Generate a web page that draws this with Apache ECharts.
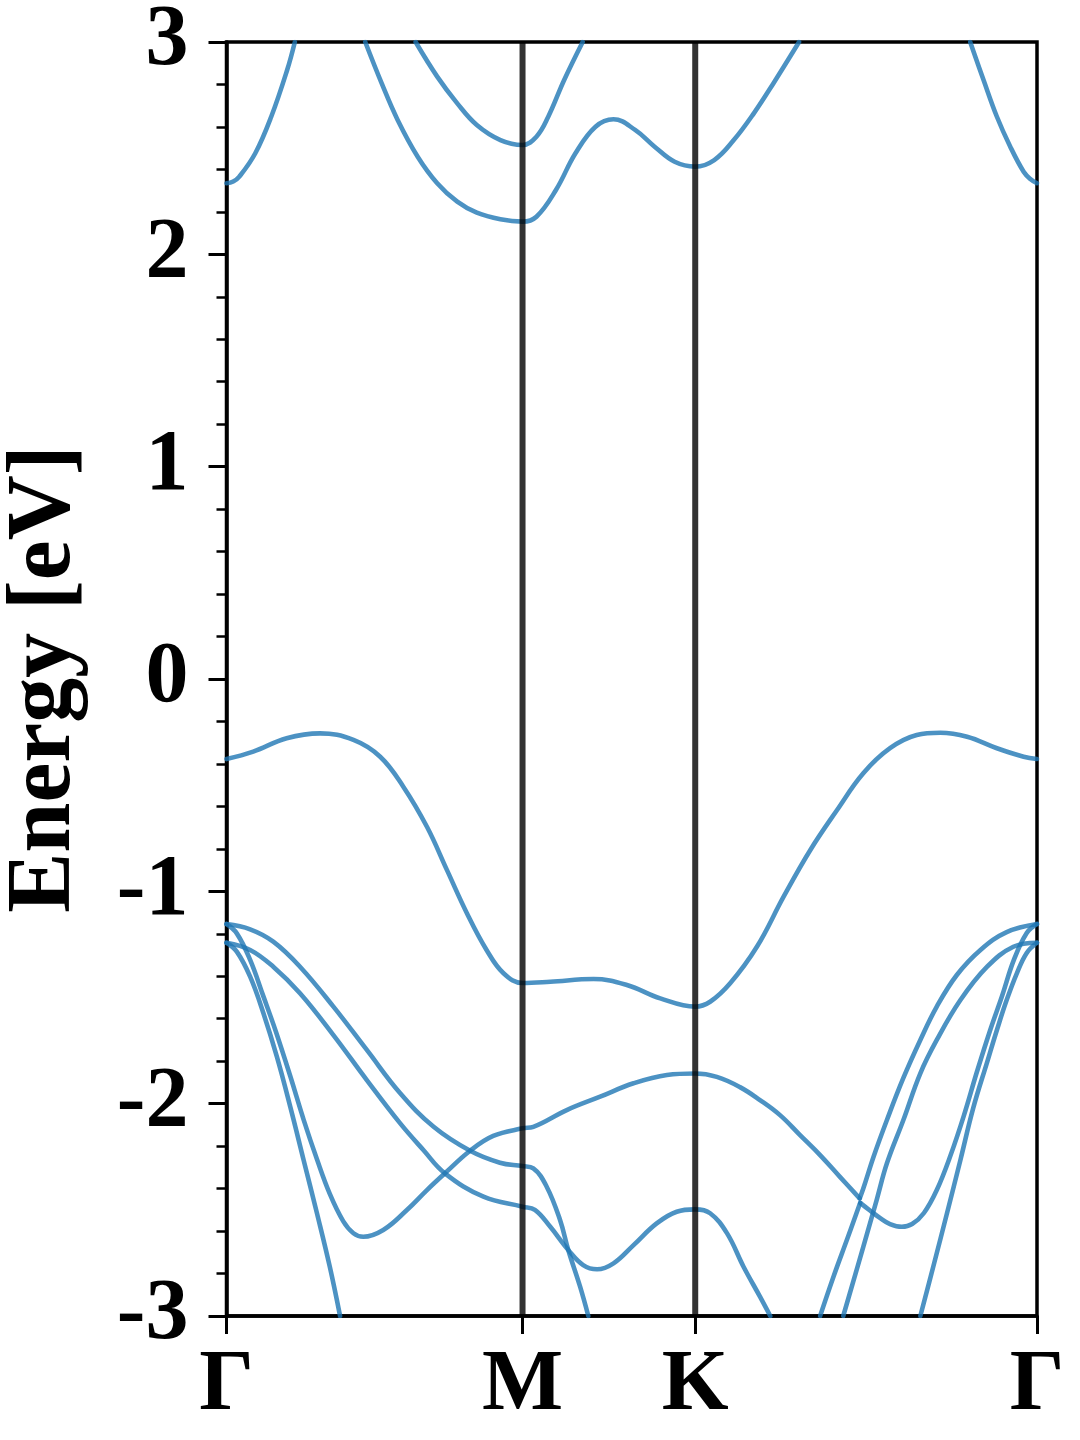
<!DOCTYPE html>
<html>
<head>
<meta charset="utf-8">
<script src="https://cdn.jsdelivr.net/npm/echarts@6/dist/echarts.min.js"></script>
<style>
html,body{margin:0;padding:0;background:#fff;}
#chart{width:1080px;height:1440px;}
</style>
</head>
<body>
<div id="chart"></div>
<script>
// High-symmetry k-points (path distance) and their labels
const kTicks = [0, 0.576, 0.912, 1.577];
const kLabels = ['Γ', 'M', 'K', 'Γ'];
// Energy axis
const eMin = -3, eMax = 3, eStep = 1;

// Bands: [k, energy (eV)]
const bandV1 = [[0,-0.377],[0.052,-0.342],[0.117,-0.279],[0.182,-0.256],[0.247,-0.287],[0.299,-0.366],[0.344,-0.507],[0.390,-0.696],[0.429,-0.900],[0.468,-1.104],[0.506,-1.276],[0.539,-1.386],[0.576,-1.432],[0.630,-1.426],[0.714,-1.413],[0.779,-1.441],[0.844,-1.504],[0.912,-1.543],[0.941,-1.520],[0.980,-1.433],[1.032,-1.261],[1.084,-1.025],[1.136,-0.805],[1.188,-0.617],[1.239,-0.444],[1.291,-0.326],[1.343,-0.264],[1.389,-0.253],[1.441,-0.272],[1.499,-0.326],[1.551,-0.366],[1.577,-0.377]];

// band through M (-2.12) and K (-1.86), split at the avoided crossing near k=1.232
const bandS1a = [[0,-1.154],[0.020,-1.198],[0.046,-1.323],[0.072,-1.496],[0.096,-1.660],[0.124,-1.870],[0.150,-2.075],[0.176,-2.262],[0.201,-2.425],[0.227,-2.553],[0.247,-2.610],[0.266,-2.627],[0.305,-2.595],[0.351,-2.501],[0.390,-2.407],[0.425,-2.328],[0.474,-2.222],[0.519,-2.152],[0.576,-2.116],[0.597,-2.109],[0.662,-2.030],[0.727,-1.967],[0.792,-1.904],[0.857,-1.865],[0.912,-1.858],[0.954,-1.874],[0.999,-1.922],[1.038,-1.983],[1.077,-2.054],[1.116,-2.148],[1.155,-2.242],[1.194,-2.346],[1.232,-2.446]];
const bandS1b = [[1.232,-2.446],[1.239,-2.400],[1.259,-2.250],[1.285,-2.077],[1.317,-1.879],[1.350,-1.700],[1.382,-1.543],[1.421,-1.394],[1.467,-1.276],[1.518,-1.192],[1.577,-1.154]];

const bandL1a = [[0,-1.154],[0.046,-1.179],[0.091,-1.237],[0.143,-1.355],[0.208,-1.543],[0.273,-1.747],[0.338,-1.951],[0.403,-2.109],[0.474,-2.222],[0.532,-2.278],[0.576,-2.294],[0.597,-2.305],[0.623,-2.391],[0.649,-2.548],[0.665,-2.689],[0.688,-2.862],[0.704,-3.0]];
const bandL1b = [[1.155,-3.0],[1.181,-2.815],[1.207,-2.642],[1.233,-2.467]];
const bandL1c = [[1.233,-2.467],[1.252,-2.503],[1.272,-2.539],[1.291,-2.567],[1.314,-2.580],[1.334,-2.567],[1.357,-2.515],[1.382,-2.407],[1.409,-2.242],[1.435,-2.054],[1.460,-1.851],[1.486,-1.653],[1.509,-1.493],[1.532,-1.323],[1.557,-1.196],[1.577,-1.154]];

const bandL2a = [[0,-1.242],[0.046,-1.276],[0.091,-1.355],[0.143,-1.480],[0.208,-1.677],[0.273,-1.889],[0.338,-2.093],[0.383,-2.218],[0.425,-2.328],[0.500,-2.438],[0.576,-2.485],[0.600,-2.500],[0.630,-2.580],[0.665,-2.689],[0.694,-2.760],[0.721,-2.780],[0.753,-2.752],[0.792,-2.666],[0.837,-2.564],[0.876,-2.509],[0.912,-2.498],[0.941,-2.516],[0.974,-2.611],[1.006,-2.768],[1.038,-2.909],[1.058,-3.0]];
const bandL2b = [[1.200,-3.0],[1.239,-2.674],[1.265,-2.454],[1.285,-2.281],[1.317,-2.077],[1.350,-1.857],[1.382,-1.700],[1.428,-1.512],[1.480,-1.355],[1.531,-1.261],[1.577,-1.242]];

const bandS2a = [[0,-1.242],[0.020,-1.284],[0.046,-1.402],[0.072,-1.575],[0.098,-1.779],[0.124,-2.014],[0.150,-2.265],[0.176,-2.516],[0.201,-2.768],[0.221,-3.0]];
const bandS2b = [[1.350,-3.0],[1.376,-2.760],[1.402,-2.515],[1.428,-2.265],[1.453,-2.020],[1.480,-1.804],[1.499,-1.653],[1.518,-1.512],[1.538,-1.385],[1.557,-1.290],[1.577,-1.242]];

const bandC1a = [[0,2.335],[0.013,2.343],[0.025,2.366],[0.056,2.476],[0.087,2.648],[0.118,2.868],[0.133,3.0]];
const bandC1b = [[1.447,3.0],[1.473,2.821],[1.499,2.648],[1.525,2.507],[1.551,2.389],[1.564,2.355],[1.577,2.335]];
const bandC2 = [[0.270,3.0],[0.302,2.805],[0.333,2.633],[0.372,2.460],[0.410,2.335],[0.449,2.248],[0.487,2.196],[0.533,2.165],[0.576,2.154],[0.603,2.177],[0.641,2.303],[0.679,2.476],[0.718,2.601],[0.753,2.636],[0.795,2.586],[0.833,2.507],[0.872,2.436],[0.912,2.413],[0.949,2.444],[0.987,2.538],[1.026,2.664],[1.064,2.805],[1.114,3.0]];
const bandC3 = [[0.368,3.0],[0.410,2.837],[0.449,2.711],[0.487,2.609],[0.533,2.538],[0.576,2.515],[0.603,2.554],[0.626,2.648],[0.657,2.821],[0.693,3.0]];

const bands = [bandC1a, bandC1b, bandC2, bandC3, bandV1, bandS1a, bandS1b, bandL1a, bandL1b, bandL1c, bandL2a, bandL2b, bandS2a, bandS2b];

const FONT = '"Liberation Serif", "Times New Roman", serif';
const chart = echarts.init(document.getElementById('chart'), null, {renderer: 'canvas'});

const bandSeries = bands.map(b => ({
  type: 'line',
  data: b,
  showSymbol: false,
  smooth: 0.4,
  clip: true,
  lineStyle: {color: 'rgba(31,119,180,0.8)', width: 4.6, cap: 'round', join: 'round'},
  z: 2,
  silent: true
}));

const vlineSeries = [kTicks[1], kTicks[2]].map(k => ({
  type: 'line',
  data: [[k, eMin], [k, eMax]],
  showSymbol: false,
  lineStyle: {color: 'rgba(0,0,0,0.8)', width: 6},
  z: 3,
  silent: true
}));

chart.setOption({
  animation: false,
  backgroundColor: '#fff',
  grid: {left: 226.5, right: 43, top: 42, bottom: 124, containLabel: false, outerBoundsMode: 'none',
         show: true, borderColor: '#000', borderWidth: 3.5, backgroundColor: 'transparent'},
  xAxis: {
    type: 'value', min: kTicks[0], max: kTicks[3],
    axisLine: {show: true, onZero: false, lineStyle: {color: '#000', width: 3.5}},
    axisTick: {show: true, customValues: kTicks, length: 18, lineStyle: {color: '#000', width: 3}},
    axisLabel: {
      show: true, customValues: kTicks, margin: 28,
      formatter: v => {
        let best = 0;
        kTicks.forEach((t, i) => { if (Math.abs(t - v) < Math.abs(kTicks[best] - v)) best = i; });
        return kLabels[best];
      },
      fontFamily: FONT, fontWeight: 'bold', fontSize: 86, color: '#000'
    },
    splitLine: {show: false}
  },
  yAxis: {
    type: 'value', min: eMin, max: eMax, interval: eStep,
    name: 'Energy [eV]', nameLocation: 'middle', nameGap: 136,
    nameTextStyle: {fontFamily: FONT, fontWeight: 'bold', fontSize: 90, color: '#000'},
    axisLine: {show: true, onZero: false, lineStyle: {color: '#000', width: 3.5}},
    axisTick: {show: true, length: 18, lineStyle: {color: '#000', width: 3}},
    minorTick: {show: true, splitNumber: 5, length: 10, lineStyle: {color: '#000', width: 2.5}},
    axisLabel: {
      margin: 38, fontFamily: FONT, fontWeight: 'bold', fontSize: 86, color: '#000',
      formatter: v => (v < 0 ? '-' + Math.abs(v) : String(v))
    },
    splitLine: {show: false},
    minorSplitLine: {show: false}
  },
  series: bandSeries.concat(vlineSeries)
});
</script>
</body>
</html>
